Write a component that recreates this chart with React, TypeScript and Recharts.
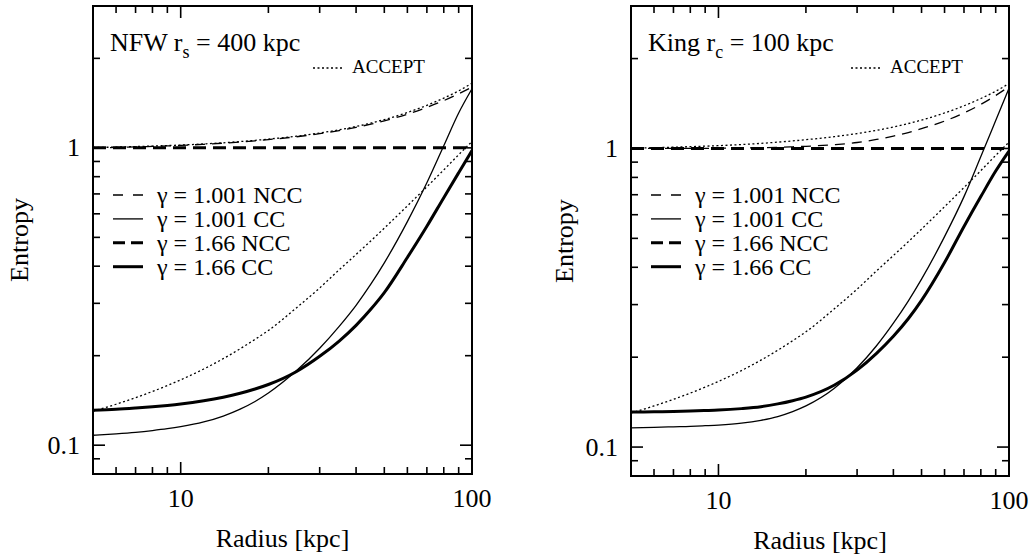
import React from "react";
import { LineChart, Line, XAxis, YAxis, ReferenceArea, Legend } from "recharts";

const radius = [5, 6, 7, 8, 9, 10, 12, 14, 16, 18, 20, 25, 30, 35, 40, 45, 50, 60, 70, 80, 90, 100];

// ACCEPT profiles, identical in both panels
const acceptHigh = [1.003, 1.006, 1.01, 1.014, 1.018, 1.022, 1.031, 1.04, 1.05, 1.06, 1.07, 1.095, 1.122, 1.15, 1.18, 1.212, 1.245, 1.315, 1.39, 1.47, 1.555, 1.65];
const acceptLow = [0.13, 0.1373, 0.1445, 0.1516, 0.1587, 0.1659, 0.1804, 0.1955, 0.211, 0.227, 0.2432, 0.29, 0.338, 0.389, 0.438, 0.487, 0.537, 0.638, 0.74, 0.843, 0.948, 1.05];
// gamma = 1.66 NCC is flat in both panels
const ncc166 = [1, 1, 1, 1, 1, 1, 1, 1, 1, 1, 1, 1, 1, 1, 1, 1, 1, 1, 1, 1, 1, 1];

// NFW r_s = 400 kpc
const nfwNcc1 = [1.0, 1.003, 1.007, 1.011, 1.015, 1.019, 1.028, 1.037, 1.046, 1.056, 1.066, 1.09, 1.116, 1.143, 1.172, 1.202, 1.233, 1.298, 1.368, 1.442, 1.52, 1.6];
const nfwCc1 = [0.108, 0.1092, 0.1105, 0.112, 0.1136, 0.1154, 0.1197, 0.1253, 0.1322, 0.1403, 0.1498, 0.1782, 0.2119, 0.2511, 0.2955, 0.3485, 0.4105, 0.5648, 0.763, 1.0165, 1.31, 1.58];
const nfwCc166 = [0.131, 0.132, 0.1333, 0.1346, 0.136, 0.1375, 0.141, 0.145, 0.1495, 0.1545, 0.16, 0.177, 0.199, 0.224, 0.253, 0.287, 0.326, 0.428, 0.545, 0.68, 0.825, 0.98];

// King r_c = 100 kpc
const kingNcc1 = [1.0, 1.0, 1.0, 1.0, 1.001, 1.002, 1.004, 1.006, 1.009, 1.013, 1.017, 1.03, 1.047, 1.072, 1.1, 1.13, 1.165, 1.235, 1.315, 1.405, 1.505, 1.61];
const kingCc1 = [0.116, 0.1164, 0.1169, 0.1173, 0.1179, 0.1185, 0.1202, 0.1229, 0.1265, 0.1314, 0.1373, 0.157, 0.1843, 0.2184, 0.2599, 0.3083, 0.3649, 0.5068, 0.6898, 0.94, 1.24, 1.59];
const kingCc166 = [0.131, 0.1313, 0.1316, 0.132, 0.1325, 0.133, 0.1345, 0.1365, 0.1395, 0.143, 0.147, 0.161, 0.181, 0.206, 0.235, 0.269, 0.31, 0.415, 0.548, 0.69, 0.84, 0.98];

const xTicks = [5, 6, 7, 8, 9, 10, 20, 30, 40, 50, 60, 70, 80, 90, 100];
const xLabels = [10, 100];
const yTicks = [0.08, 0.09, 0.1, 0.2, 0.3, 0.4, 0.5, 0.6, 0.7, 0.8, 0.9, 1, 2, 3];
const yLabels = [0.1, 1];

const FONT = "Liberation Serif, DejaVu Serif, Times New Roman, Times, serif";
const CHART_W = 515;
const CHART_H = 558;
const Y_AXIS_W = 60;
const TOP = 6;

const series = [
  { key: "acceptHigh", width: 1.3, dash: "2 2.5" },
  { key: "acceptLow", width: 1.3, dash: "2 2.5" },
  { key: "ncc1", width: 1.3, dash: "10 7" },
  { key: "cc1", width: 1.3, dash: undefined },
  { key: "ncc166", width: 3, dash: "13 7" },
  { key: "cc166", width: 3, dash: undefined },
];

const legendRows = [
  { label: "γ = 1.001 NCC", width: 1.3, dash: "10 10" },
  { label: "γ = 1.001 CC", width: 1.3, dash: undefined },
  { label: "γ = 1.66 NCC", width: 3, dash: "12 6" },
  { label: "γ = 1.66 CC", width: 3, dash: undefined },
];

const textStyle = { fontFamily: FONT };

function buildRows(ncc1: number[], cc1: number[], cc166: number[]) {
  return radius.map((r, i) => ({
    r,
    acceptHigh: acceptHigh[i],
    acceptLow: acceptLow[i],
    ncc1: ncc1[i],
    cc1: cc1[i],
    ncc166: ncc166[i],
    cc166: cc166[i],
  }));
}

// ticks point inward, mirrored on the top edge
function XTick(props: any) {
  const { x, y, payload, plotH } = props;
  const major = xLabels.includes(payload.value);
  const len = major ? 12 : 7;
  return (
    <g>
      <line x1={x} x2={x} y1={y} y2={y - len} stroke="#000" strokeWidth={1.6} />
      <line x1={x} x2={x} y1={y - plotH} y2={y - plotH + len} stroke="#000" strokeWidth={1.6} />
      {major && (
        <text x={x} y={y + 33} textAnchor="middle" fontSize={26} style={textStyle} fill="#000">
          {payload.value}
        </text>
      )}
    </g>
  );
}

// ticks point inward, mirrored on the right edge
function YTick(props: any) {
  const { x, y, payload, plotW } = props;
  const major = yLabels.includes(payload.value);
  const len = major ? 12 : 7;
  return (
    <g>
      <line x1={x} x2={x + len} y1={y} y2={y} stroke="#000" strokeWidth={1.6} />
      <line x1={x + plotW} x2={x + plotW - len} y1={y} y2={y} stroke="#000" strokeWidth={1.6} />
      {major && (
        <text x={x - 13} y={y + 8.5} textAnchor="end" fontSize={26} style={textStyle} fill="#000">
          {payload.value}
        </text>
      )}
    </g>
  );
}

function PanelKey({ px, title, sub, rest }: { px: number; title: string; sub: string; rest: string }) {
  return (
    <svg width={CHART_W} height={CHART_H} style={{ display: "block" }}>
      <text x={px + 17} y={51} fontSize={26} style={textStyle} fill="#000">
        {title}
        <tspan fontSize={18} dy={7}>{sub}</tspan>
        <tspan dy={-7}>{rest}</tspan>
      </text>
      <line x1={px + 220} x2={px + 250} y1={68} y2={68} stroke="#000" strokeWidth={1.3} strokeDasharray="2 2.5" />
      <text x={px + 259} y={73} fontSize={19} style={textStyle} fill="#000">ACCEPT</text>
      {legendRows.map((row, i) => {
        const cy = 195 + i * 23.9;
        return (
          <g key={row.label}>
            <line x1={px + 20} x2={px + 50} y1={cy} y2={cy} stroke="#000" strokeWidth={row.width} strokeDasharray={row.dash} />
            <text x={px + 64} y={cy + 8} fontSize={24} style={textStyle} fill="#000">{row.label}</text>
          </g>
        );
      })}
    </svg>
  );
}

type PanelProps = {
  rows: ReturnType<typeof buildRows>;
  title: string;
  sub: string;
  rest: string;
  marginLeft: number;
  marginRight: number;
  xAxisH: number;
  yTitleX: number;
  xTitleOffset: number;
};

function Panel({ rows, title, sub, rest, marginLeft, marginRight, xAxisH, yTitleX, xTitleOffset }: PanelProps) {
  const plotW = CHART_W - marginLeft - marginRight - Y_AXIS_W;
  const plotH = CHART_H - TOP - xAxisH;
  const px = marginLeft + Y_AXIS_W;
  const midY = TOP + plotH / 2;
  return (
    <LineChart width={CHART_W} height={CHART_H} data={rows} margin={{ top: TOP, right: marginRight, bottom: 0, left: marginLeft }}>
      <XAxis
        dataKey="r"
        type="number"
        scale="log"
        domain={[5, 100]}
        allowDataOverflow
        ticks={xTicks}
        interval={0}
        height={xAxisH}
        tickSize={0}
        tickMargin={0}
        tickLine={false}
        axisLine={false}
        tick={<XTick plotH={plotH} />}
        label={{ value: "Radius [kpc]", position: "insideBottom", offset: xTitleOffset, fontSize: 26, style: textStyle, fill: "#000" }}
      />
      <YAxis
        type="number"
        scale="log"
        domain={[0.08, 3]}
        allowDataOverflow
        ticks={yTicks}
        interval={0}
        width={Y_AXIS_W}
        tickSize={0}
        tickMargin={0}
        tickLine={false}
        axisLine={false}
        tick={<YTick plotW={plotW} />}
        label={{
          content: () => (
            <text
              x={yTitleX}
              y={midY}
              transform={`rotate(-90, ${yTitleX}, ${midY})`}
              textAnchor="middle"
              fontSize={26}
              style={textStyle}
              fill="#000"
            >
              Entropy
            </text>
          ),
        }}
      />
      <ReferenceArea x1={5} x2={100} y1={0.08} y2={3} fill="none" stroke="#000" strokeWidth={2} ifOverflow="visible" />
      {series.map((s) => (
        <Line
          key={s.key}
          dataKey={s.key}
          type="monotone"
          stroke="#000"
          strokeWidth={s.width}
          strokeDasharray={s.dash}
          dot={false}
          activeDot={false}
          isAnimationActive={false}
        />
      ))}
      <Legend
        layout="vertical"
        align="center"
        verticalAlign="middle"
        wrapperStyle={{ left: 0, top: 0, width: CHART_W, height: CHART_H, pointerEvents: "none" }}
        content={() => <PanelKey px={px} title={title} sub={sub} rest={rest} />}
      />
    </LineChart>
  );
}

export default function App() {
  const nfwRows = buildRows(nfwNcc1, nfwCc1, nfwCc166);
  const kingRows = buildRows(kingNcc1, kingCc1, kingCc166);
  return (
    <div style={{ position: "absolute", left: 0, top: 0, width: 1031, height: 558, background: "#fff", fontFamily: FONT }}>
      <div style={{ position: "absolute", left: 0, top: 0 }}>
        <Panel rows={nfwRows} title="NFW r" sub="s" rest=" = 400 kpc" marginLeft={33} marginRight={43} xAxisH={84} yTitleX={28} xTitleOffset={11} />
      </div>
      <div style={{ position: "absolute", left: 516, top: 0 }}>
        <Panel rows={kingRows} title="King r" sub="c" rest=" = 100 kpc" marginLeft={55} marginRight={22} xAxisH={82} yTitleX={57} xTitleOffset={9} />
      </div>
    </div>
  );
}
